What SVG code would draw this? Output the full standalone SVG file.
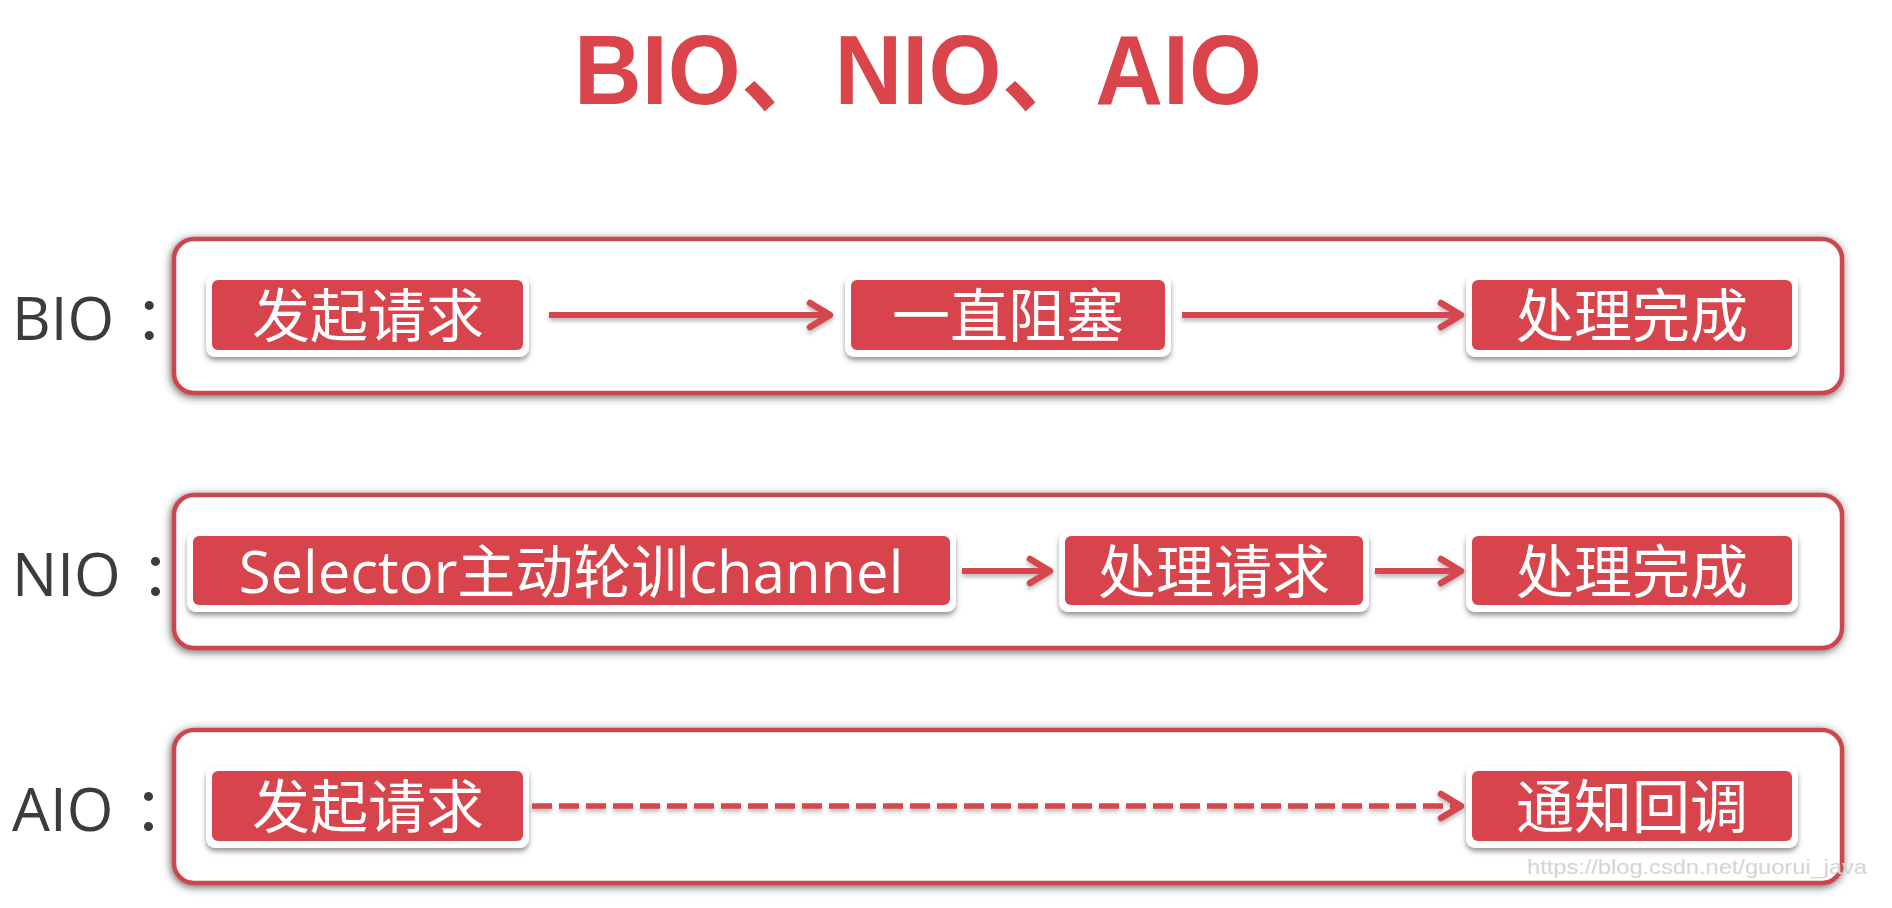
<svg xmlns="http://www.w3.org/2000/svg" width="1892" height="908" viewBox="0 0 1892 908">
<defs>
<filter id="boxShadow" x="-5%" y="-20%" width="110%" height="140%">
<feDropShadow dx="-1" dy="2" stdDeviation="4" flood-color="#333" flood-opacity="0.75"/>
</filter>
<filter id="nodeShadow" x="-10%" y="-20%" width="120%" height="150%">
<feDropShadow dx="0" dy="3.5" stdDeviation="2.5" flood-color="#555" flood-opacity="0.6"/>
</filter>
<filter id="edgeShadow" x="-5%" y="-100%" width="110%" height="300%">
<feDropShadow dx="0" dy="3" stdDeviation="2" flood-color="#666" flood-opacity="0.45"/>
</filter>
<marker id="chev" viewBox="-30 -20 36 40" markerWidth="36" markerHeight="40" refX="0" refY="0" orient="auto" markerUnits="userSpaceOnUse">
<path d="M-20,-12 L0,0 L-20,12" fill="none" stroke="#d6464d" stroke-width="6.5" stroke-linecap="round" stroke-linejoin="round"/>
</marker>
<style>
.frame{fill:#fff;stroke:#cc474d;stroke-width:4.5;filter:url(#boxShadow)}
.nodeBg{fill:#fff;filter:url(#nodeShadow)}
.node{fill:#d7444b}
.ntxt{fill:#fff;font-family:"Open Sans","Noto Sans CJK SC",sans-serif;font-size:58px;text-anchor:middle;dominant-baseline:central}
.lbl{fill:#3c3c3c;font-family:"Open Sans","Noto Sans CJK SC",sans-serif;font-size:60px}
.edge{stroke:#d6464d;stroke-width:6;fill:none;marker-end:url(#chev)}
.dash{stroke-dasharray:20 7;stroke-width:5.5}
.title{fill:#d9454b;font-family:"Liberation Sans","Noto Sans CJK SC",sans-serif;font-weight:bold;font-size:98px}
.wm{fill:#d4d4d4;font-family:"Liberation Sans",sans-serif;font-size:21px}
</style>
</defs>
<rect width="1892" height="908" fill="#fff"/>
<text class="title" x="574" y="104" textLength="688" lengthAdjust="spacingAndGlyphs">BIO、NIO、AIO</text>

<g id="frames">
<rect class="frame" x="174" y="239" width="1668" height="154" rx="20"/>
<rect class="frame" x="174" y="495" width="1668" height="153" rx="20"/>
<rect class="frame" x="174" y="730" width="1668" height="153" rx="20"/>
</g>

<g id="labels">
<text class="lbl" x="12" y="340">BIO<tspan dx="20">：</tspan></text>
<text class="lbl" x="12" y="596">NIO<tspan dx="20">：</tspan></text>
<text class="lbl" x="12" y="831">AIO<tspan dx="20">：</tspan></text>
</g>

<g id="connectors" filter="url(#edgeShadow)">
<line class="edge" x1="549" y1="315" x2="830" y2="315"/>
<line class="edge" x1="1182" y1="315" x2="1461" y2="315"/>
<line class="edge" x1="962" y1="571" x2="1050" y2="571"/>
<line class="edge" x1="1375" y1="571" x2="1461" y2="571"/>
<line class="edge dash" x1="532" y1="806" x2="1461" y2="806"/>
</g>

<g id="bio-start">
<rect class="nodeBg" x="206" y="275" width="323" height="82" rx="9"/>
<rect class="node" x="212" y="280" width="311" height="70" rx="6"/>
<text class="ntxt" x="368" y="314">发起请求</text>
</g>
<g id="bio-block">
<rect class="nodeBg" x="845" y="275" width="326" height="82" rx="9"/>
<rect class="node" x="851" y="280" width="314" height="70" rx="6"/>
<text class="ntxt" x="1008" y="314">一直阻塞</text>
</g>
<g id="bio-done">
<rect class="nodeBg" x="1466" y="275" width="332" height="82" rx="9"/>
<rect class="node" x="1472" y="280" width="320" height="70" rx="6"/>
<text class="ntxt" x="1632" y="314">处理完成</text>
</g>

<g id="nio-selector">
<rect class="nodeBg" x="187" y="531" width="769" height="81" rx="9"/>
<rect class="node" x="193" y="536" width="757" height="69" rx="6"/>
<text class="ntxt" x="571" y="570">Selector主动轮训channel</text>
</g>
<g id="nio-handle">
<rect class="nodeBg" x="1059" y="531" width="310" height="81" rx="9"/>
<rect class="node" x="1065" y="536" width="298" height="69" rx="6"/>
<text class="ntxt" x="1214" y="570">处理请求</text>
</g>
<g id="nio-done">
<rect class="nodeBg" x="1466" y="531" width="332" height="81" rx="9"/>
<rect class="node" x="1472" y="536" width="320" height="69" rx="6"/>
<text class="ntxt" x="1632" y="570">处理完成</text>
</g>

<g id="aio-start">
<rect class="nodeBg" x="206" y="766" width="323" height="82" rx="9"/>
<rect class="node" x="212" y="771" width="311" height="70" rx="6"/>
<text class="ntxt" x="368" y="805">发起请求</text>
</g>
<g id="aio-callback">
<rect class="nodeBg" x="1466" y="766" width="332" height="82" rx="9"/>
<rect class="node" x="1472" y="771" width="320" height="70" rx="6"/>
<text class="ntxt" x="1632" y="805">通知回调</text>
</g>

<text class="wm" x="1527" y="874" textLength="340" lengthAdjust="spacingAndGlyphs">https://blog.csdn.net/guorui_java</text>
</svg>
